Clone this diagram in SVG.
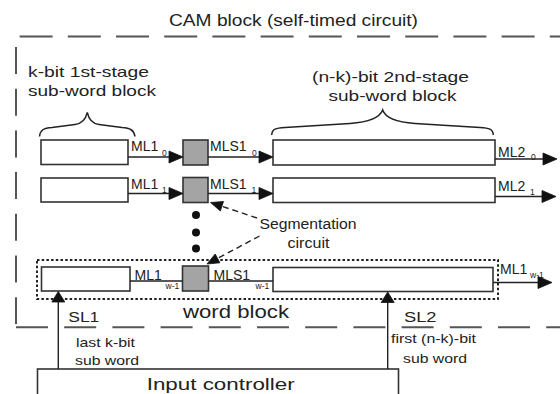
<svg xmlns="http://www.w3.org/2000/svg" width="560" height="394" viewBox="0 0 560 394">
<defs>
<style>
text{font-family:"Liberation Sans",Arial,sans-serif;fill:#222}
.box{fill:#fff;stroke:#333;stroke-width:1.6}
.seg{fill:#a4a4a4;stroke:#333;stroke-width:1.6}
.ln{stroke:#222;stroke-width:1.4;fill:none}
.dl{stroke:#222;stroke-width:1.4;fill:none;stroke-dasharray:6 4}
.outer{stroke:#555;stroke-width:2;fill:none}
.brace{stroke:#222;stroke-width:1.5;fill:none}
.t14{font-size:14px}
.sub{font-size:8.5px}
</style>
</defs>

<g id="cam-block">
<line class="outer" x1="19.6" y1="36.5" x2="560" y2="36.5" stroke-dasharray="33 15.2"/>
<line class="outer" x1="16" y1="47" x2="16" y2="324" stroke-dasharray="27 14.7"/>
<line class="outer" x1="16" y1="327.3" x2="560" y2="327.3" stroke-dasharray="32 16.2"/>
<text x="169" y="26" font-size="16" textLength="249" lengthAdjust="spacingAndGlyphs">CAM block (self-timed circuit)</text>
</g>

<g id="stage1-label">
<text x="28" y="77" font-size="15" textLength="121" lengthAdjust="spacingAndGlyphs">k-bit 1st-stage</text>
<text x="28" y="95.5" font-size="15" textLength="128" lengthAdjust="spacingAndGlyphs">sub-word block</text>
<path class="brace" d="M39.5,136.5 C40,130 44,128 52,127.5 L75,124.5 C82,123.5 86,118 87.3,112.3 C88.5,118 92,123.5 99,124.5 L122,127.5 C130,128 134,130 135,136.5"/>
</g>

<g id="stage2-label">
<text x="312" y="82" font-size="15" textLength="157" lengthAdjust="spacingAndGlyphs">(n-k)-bit 2nd-stage</text>
<text x="328.5" y="100.5" font-size="15" textLength="128" lengthAdjust="spacingAndGlyphs">sub-word block</text>
<path class="brace" d="M271.7,135 C272,129 276,128 285,127.5 L350,123.5 C370,122 380,117 382.7,110 C385,117 395,122 415,123.5 L480,127.5 C489,128 493,129 493.3,135"/>
</g>

<g id="row0">
<rect class="box" x="41" y="140" width="87" height="24.5"/>
<rect class="seg" x="183" y="140" width="25" height="25"/>
<rect class="box" x="273" y="140" width="222" height="25"/>
</g>

<g id="row1">
<rect class="box" x="41" y="178" width="87" height="24"/>
<rect class="seg" x="183" y="177.5" width="25" height="25"/>
<rect class="box" x="273" y="178" width="222" height="24.5"/>
</g>

<g id="dots">
<circle cx="196" cy="215" r="4" fill="#111"/>
<circle cx="196" cy="232.5" r="4" fill="#111"/>
<circle cx="196" cy="248.5" r="4" fill="#111"/>
</g>

<g id="word-block">
<rect x="37" y="260" width="461" height="39" fill="none" stroke="#222" stroke-width="2" stroke-dasharray="2.5 2.2"/>
<rect class="box" x="41.5" y="267" width="88.5" height="24"/>
<rect class="seg" x="182.5" y="266" width="26" height="25"/>
<rect class="box" x="273" y="267.5" width="220" height="24"/>
<text x="183" y="318.3" font-size="18" textLength="106" lengthAdjust="spacingAndGlyphs">word block</text>
</g>

<g id="segmentation-label">
<text x="259.5" y="228.5" class="t14" textLength="97" lengthAdjust="spacingAndGlyphs">Segmentation</text>
<text x="287.5" y="247.5" class="t14" textLength="42" lengthAdjust="spacingAndGlyphs">circuit</text>
</g>

<g id="input-controller">
<rect class="box" x="37.5" y="369" width="361" height="40"/>
<text x="146.7" y="390" font-size="17" textLength="148" lengthAdjust="spacingAndGlyphs">Input controller</text>
</g>

<g id="labels">
<text x="131" y="151" class="t14">ML1</text><text x="162" y="156" class="sub">0</text>
<text x="210" y="151" class="t14">MLS1</text><text x="252" y="156" class="sub">0</text>
<text x="498" y="156.5" class="t14">ML2</text><text x="531" y="160" class="sub">0</text>
<text x="131" y="188.5" class="t14">ML1</text><text x="162" y="192.5" class="sub">1</text>
<text x="210" y="188.5" class="t14">MLS1</text><text x="251.5" y="192.5" class="sub">1</text>
<text x="498" y="190.7" class="t14">ML2</text><text x="530" y="195" class="sub">1</text>
<text x="134.5" y="279.5" class="t14">ML1</text><text x="165.5" y="288.5" class="sub">w-1</text>
<text x="213.5" y="279.5" class="t14">MLS1</text><text x="255.5" y="288.5" class="sub">w-1</text>
<text x="500" y="274" class="t14">ML1</text><text x="530" y="277.5" class="sub">w-1</text>
<text x="68.3" y="321.7" class="t14" textLength="31" lengthAdjust="spacingAndGlyphs">SL1</text>
<text x="404" y="321.7" class="t14" textLength="32.5" lengthAdjust="spacingAndGlyphs">SL2</text>
<text x="76" y="346.7" font-size="13" textLength="59" lengthAdjust="spacingAndGlyphs">last k-bit</text>
<text x="75" y="364.5" font-size="13" textLength="64" lengthAdjust="spacingAndGlyphs">sub word</text>
<text x="391" y="343.3" font-size="13" textLength="85" lengthAdjust="spacingAndGlyphs">first (n-k)-bit</text>
<text x="403" y="363" font-size="13" textLength="64" lengthAdjust="spacingAndGlyphs">sub word</text>
</g>

<g id="connectors">
<line class="ln" x1="128" y1="157" x2="170" y2="157"/>
<line class="ln" x1="208" y1="157" x2="260" y2="157"/>
<line class="ln" x1="495" y1="159" x2="544" y2="159"/>
<line class="ln" x1="128" y1="193.5" x2="170" y2="193.5"/>
<line class="ln" x1="208" y1="193.5" x2="260" y2="193.5"/>
<line class="ln" x1="495" y1="196.5" x2="543" y2="196.5"/>
<line class="ln" x1="130" y1="281" x2="182.5" y2="281"/>
<line class="ln" x1="208.5" y1="281" x2="273" y2="281"/>
<line class="ln" x1="493" y1="282.5" x2="539" y2="282.5"/>
<line class="dl" x1="257" y1="218" x2="222" y2="206.3"/>
<line class="dl" x1="259.5" y1="236" x2="217.6" y2="258.4"/>
<line class="ln" x1="58.3" y1="369" x2="58.3" y2="301"/>
<line class="ln" x1="387.7" y1="369" x2="387.7" y2="301"/>
<g id="arrowheads" fill="#111" stroke="#111" stroke-width="0.8" stroke-linejoin="miter">
<polygon points="169,151 183,157 169,163"/>
<polygon points="259,151 273,157 259,163"/>
<polygon points="543,153 557,159 543,165"/>
<polygon points="169,187.5 183,193.5 169,199.5"/>
<polygon points="259,187.5 273,193.5 259,199.5"/>
<polygon points="542,190.5 556,196.5 542,202.5"/>
<polygon points="538,276.5 552,282.5 538,288.5"/>
<polygon points="223.5,201.5 210.5,202.5 220.3,211"/>
<polygon points="215.2,254 207,264 219.9,262.8"/>
<polygon points="51.8,302 58.3,291.5 64.8,302"/>
<polygon points="381.2,302.5 387.7,292 394.2,302.5"/>
</g>
</g>
</svg>
